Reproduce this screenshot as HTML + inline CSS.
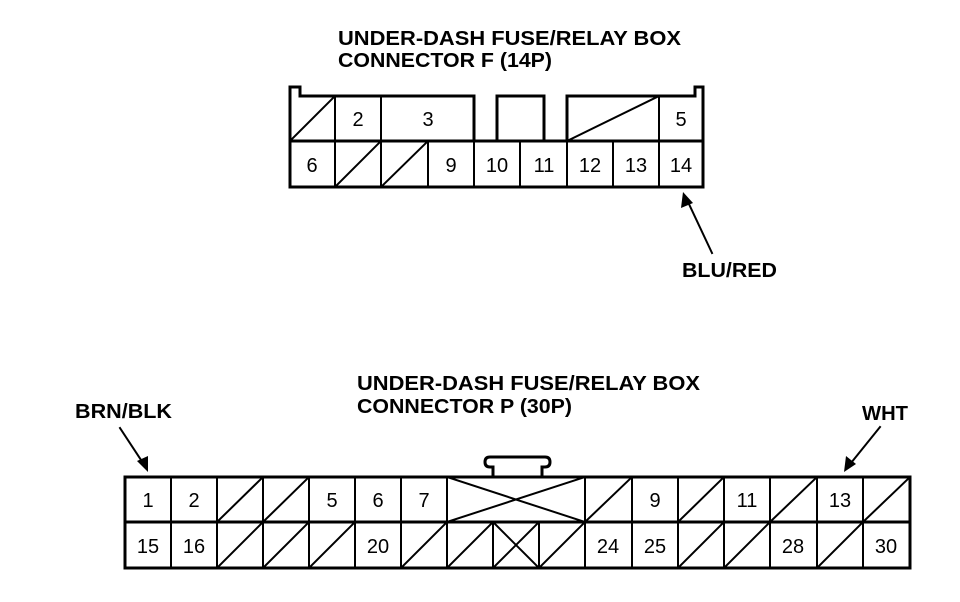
<!DOCTYPE html>
<html><head><meta charset="utf-8"><style>
html,body{margin:0;padding:0;background:#fff;}
svg{display:block;}
.t{font-family:"Liberation Sans",Arial,sans-serif;font-weight:bold;font-size:20px;fill:#000;}
.n{font-family:"Liberation Sans",Arial,sans-serif;font-size:20px;fill:#000;text-anchor:middle;}
</style></head><body>
<svg width="960" height="602" viewBox="0 0 960 602" xmlns="http://www.w3.org/2000/svg">
<g stroke="#000" fill="none" stroke-linecap="square">
<!-- Connector F -->
<path d="M290,187 L290,87 L300,87 L300,96 L474,96 L474,141" stroke-width="3"/>
<path d="M497,141 L497,96 L544,96 L544,141" stroke-width="3"/>
<path d="M567,141 L567,96 L695,96 L695,87 L703,87 L703,187 L290,187" stroke-width="3"/>
<line x1="290" y1="141" x2="703" y2="141" stroke-width="3"/>
<g stroke-width="2">
<line x1="335" y1="96" x2="335" y2="187"/>
<line x1="381" y1="96" x2="381" y2="187"/>
<line x1="428" y1="141" x2="428" y2="187"/>
<line x1="474" y1="141" x2="474" y2="187"/>
<line x1="520" y1="141" x2="520" y2="187"/>
<line x1="567" y1="141" x2="567" y2="187"/>
<line x1="613" y1="141" x2="613" y2="187"/>
<line x1="659" y1="96" x2="659" y2="187"/>
<line x1="290" y1="141" x2="335" y2="96"/>
<line x1="335" y1="187" x2="381" y2="141"/>
<line x1="381" y1="187" x2="428" y2="141"/>
<line x1="567" y1="141" x2="659" y2="96"/>
<line x1="712" y1="253" x2="688" y2="202"/>
</g>
<!-- Connector P -->
<path d="M493,477 L493,467 L490,467 Q485,467 485,462 Q485,457 490,457 L545,457 Q550,457 550,462 Q550,467 545,467 L542,467 L542,477" stroke-width="3"/>
<rect x="125" y="477" width="785" height="91" stroke-width="3"/>
<line x1="125" y1="522" x2="910" y2="522" stroke-width="3"/>
<g stroke-width="2">
<line x1="171" y1="477" x2="171" y2="568"/>
<line x1="217" y1="477" x2="217" y2="568"/>
<line x1="263" y1="477" x2="263" y2="568"/>
<line x1="309" y1="477" x2="309" y2="568"/>
<line x1="355" y1="477" x2="355" y2="568"/>
<line x1="401" y1="477" x2="401" y2="568"/>
<line x1="447" y1="477" x2="447" y2="568"/>
<line x1="493" y1="522" x2="493" y2="568"/>
<line x1="539" y1="522" x2="539" y2="568"/>
<line x1="585" y1="477" x2="585" y2="568"/>
<line x1="632" y1="477" x2="632" y2="568"/>
<line x1="678" y1="477" x2="678" y2="568"/>
<line x1="724" y1="477" x2="724" y2="568"/>
<line x1="770" y1="477" x2="770" y2="568"/>
<line x1="817" y1="477" x2="817" y2="568"/>
<line x1="863" y1="477" x2="863" y2="568"/>
<!-- X top -->
<line x1="447" y1="477" x2="585" y2="522"/>
<line x1="447" y1="522" x2="585" y2="477"/>
<line x1="493" y1="522" x2="539" y2="568"/>
<line x1="493" y1="568" x2="539" y2="522"/>
<!-- row1 diagonals -->
<line x1="217" y1="522" x2="263" y2="477"/>
<line x1="263" y1="522" x2="309" y2="477"/>
<line x1="585" y1="522" x2="632" y2="477"/>
<line x1="678" y1="522" x2="724" y2="477"/>
<line x1="770" y1="522" x2="817" y2="477"/>
<line x1="863" y1="522" x2="910" y2="477"/>
<!-- row2 diagonals -->
<line x1="217" y1="568" x2="263" y2="522"/>
<line x1="263" y1="568" x2="309" y2="522"/>
<line x1="309" y1="568" x2="355" y2="522"/>
<line x1="401" y1="568" x2="447" y2="522"/>
<line x1="447" y1="568" x2="493" y2="522"/>
<line x1="539" y1="568" x2="585" y2="522"/>
<line x1="678" y1="568" x2="724" y2="522"/>
<line x1="724" y1="568" x2="770" y2="522"/>
<line x1="817" y1="568" x2="863" y2="522"/>
<line x1="120" y1="428" x2="143" y2="463"/>
<line x1="880" y1="427" x2="851" y2="463"/>
</g>
</g>
<!-- arrowheads -->
<polygon points="683,192 681,208 693,203" fill="#000"/>
<polygon points="148,472 137,461 148,456" fill="#000"/>
<polygon points="844,472 846,456 856,464" fill="#000"/>
<!-- labels -->
<text class="t" x="338" y="45" textLength="343" lengthAdjust="spacingAndGlyphs">UNDER-DASH FUSE/RELAY BOX</text>
<text class="t" x="338" y="67" textLength="214" lengthAdjust="spacingAndGlyphs">CONNECTOR F (14P)</text>
<text class="t" x="682" y="277" textLength="95" lengthAdjust="spacingAndGlyphs">BLU/RED</text>
<text class="t" x="357" y="390" textLength="343" lengthAdjust="spacingAndGlyphs">UNDER-DASH FUSE/RELAY BOX</text>
<text class="t" x="357" y="413" textLength="215" lengthAdjust="spacingAndGlyphs">CONNECTOR P (30P)</text>
<text class="t" x="75" y="418" textLength="97" lengthAdjust="spacingAndGlyphs">BRN/BLK</text>
<text class="t" x="862" y="420" textLength="46" lengthAdjust="spacingAndGlyphs">WHT</text>
<!-- F numbers -->
<g class="n">
<text x="358" y="126">2</text>
<text x="428" y="126">3</text>
<text x="681" y="126">5</text>
<text x="312" y="172">6</text>
<text x="451" y="172">9</text>
<text x="497" y="172">10</text>
<text x="544" y="172">11</text>
<text x="590" y="172">12</text>
<text x="636" y="172">13</text>
<text x="681" y="172">14</text>
<!-- P numbers -->
<text x="148" y="507">1</text>
<text x="194" y="507">2</text>
<text x="332" y="507">5</text>
<text x="378" y="507">6</text>
<text x="424" y="507">7</text>
<text x="655" y="507">9</text>
<text x="747" y="507">11</text>
<text x="840" y="507">13</text>
<text x="148" y="553">15</text>
<text x="194" y="553">16</text>
<text x="378" y="553">20</text>
<text x="608" y="553">24</text>
<text x="655" y="553">25</text>
<text x="793" y="553">28</text>
<text x="886" y="553">30</text>
</g>
</svg>
</body></html>
